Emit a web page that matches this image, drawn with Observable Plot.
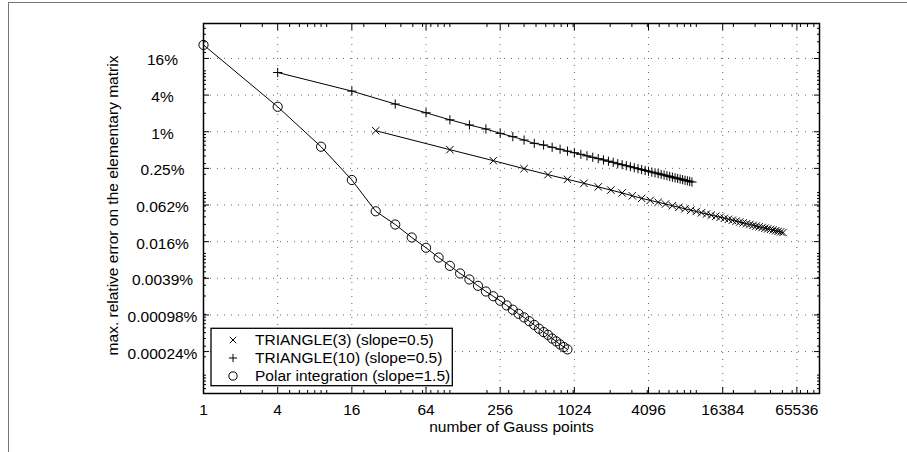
<!DOCTYPE html>
<html><head><meta charset="utf-8">
<script src="https://cdn.jsdelivr.net/npm/d3@7"></script>
<script src="https://cdn.jsdelivr.net/npm/@observablehq/plot@0.6"></script>
<style>
html,body{margin:0;padding:0;background:#fff;}
#wrap{position:relative;width:907px;height:452px;overflow:hidden;}
#border{position:absolute;left:8px;top:2px;width:1000px;height:600px;border:1.5px solid #777;pointer-events:none;z-index:2;}
#chart{position:absolute;left:0;top:0;}
</style></head><body><div id="wrap"><div id="chart"></div><div id="border"></div></div>
<script>
// ---- data ----
const seriesNames = ["TRIANGLE(3) (slope=0.5)", "TRIANGLE(10) (slope=0.5)", "Polar integration (slope=1.5)"];

const tri3Points = [25,100,225,400,625,900,1225,1600,2025,2500,3025,3600,4225,4900,5625,6400,7225,8100,9025,10000,11025,12100,13225,14400,15625,16900,18225,19600,21025,22500,24025,25600,27225,28900,30625,32400,34225,36100,38025,40000,42025,44100,46225,48400,50625];
const tri3Error = [1.04,0.507,0.335,0.247,0.197,0.165,0.142,0.124,0.110,0.0987,0.0885,0.0805,0.0745,0.0693,0.0648,0.0608,0.0573,0.0542,0.0514,0.0489,0.0466,0.0445,0.0426,0.0409,0.0393,0.0378,0.0364,0.0351,0.0339,0.0328,0.0318,0.0308,0.0299,0.0290,0.0282,0.0274,0.0267,0.0260,0.0254,0.0248,0.0242,0.0236,0.0231,0.0226,0.0221];

const tri10Points = [4,16,36,64,100,144,196,256,324,400,484,576,676,784,900,1024,1156,1296,1444,1600,1764,1936,2116,2304,2500,2704,2916,3136,3364,3600,3844,4096,4356,4624,4900,5184,5476,5776,6084,6400,6724,7056,7396,7744,8100,8464,8836,9216];
const tri10Error = [9.4,4.65,2.85,2.05,1.57,1.29,1.11,0.94,0.83,0.73,0.645,0.605,0.555,0.515,0.48,0.452,0.425,0.401,0.38,0.361,0.344,0.328,0.314,0.298,0.287,0.276,0.266,0.256,0.247,0.239,0.231,0.224,0.217,0.211,0.205,0.199,0.194,0.189,0.184,0.179,0.175,0.171,0.167,0.163,0.159,0.156,0.153,0.149];

const polarPoints = [1,4,9,16,25,36,49,64,81,100,121,144,169,196,225,256,289,324,361,400,441,484,529,576,625,676,729,784,841,900];
const polarError = [26.7,2.57,0.567,0.161,0.0493,0.0299,0.0183,0.0124,0.00857,0.00626,0.00469,0.00374,0.00294,0.00237,0.00198,0.00167,0.0014,0.00119,0.00102,0.00089,0.00077,0.00067,0.00058,0.00051,0.00046,0.0004,0.00036,0.00032,0.00029,0.000265];

const xTickValues = [1,4,16,64,256,1024,4096,16384,65536];
const xTickLabels = ["1","4","16","64","256","1024","4096","16384","65536"];
const yTickValues = [16,4,1,0.25,0.0625,0.015625,0.00390625,0.0009765625,0.000244140625];
const yTickLabels = ["16%","4%","1%","0.25%","0.062%","0.016%","0.0039%","0.00098%","0.00024%"];

const xTitle = "number of Gauss points";
const yTitle = "max. relative error on the elementary matrix";

// ---- layout ----
const W = 907, H = 452;
const mL = 203, mR = 88, mT = 23, mB = 59;
const xDomain = [1, 1e5];
const yDomain = [5e-5, 60];
const fontFamily = '"Liberation Sans", Arial, Helvetica, sans-serif';
const fontSize = 15.5;

const rows = (xs, ys) => xs.map((x, i) => ({x, y: ys[i]}));
const tri3 = rows(tri3Points, tri3Error);
const tri10 = rows(tri10Points, tri10Error);
const polar = rows(polarPoints, polarError);

const symTimes = {draw(ctx, size) { const r = Math.sqrt(size / Math.PI); ctx.moveTo(-r, -r); ctx.lineTo(r, r); ctx.moveTo(-r, r); ctx.lineTo(r, -r); }};
const symPlus = {draw(ctx, size) { const r = Math.sqrt(size / Math.PI); ctx.moveTo(-r, 0); ctx.lineTo(r, 0); ctx.moveTo(0, -r); ctx.lineTo(0, r); }};
const symCircle = {draw(ctx, size) { const r = Math.sqrt(size / Math.PI); ctx.moveTo(r, 0); ctx.arc(0, 0, r, 0, 2 * Math.PI); }};
const symbols = [symTimes, symPlus, symCircle];
const symR = [3.7, 4.6, 4.6];

const xLabel = new Map(xTickValues.map((v, i) => [v, xTickLabels[i]]));
const yLabel = new Map(yTickValues.map((v, i) => [v, yTickLabels[i]]));
const xMinor = d3.scaleLog().domain(xDomain).ticks().filter(v => !xTickValues.includes(v));
const yMinor = d3.scaleLog().domain(yDomain).ticks().filter(v => !yTickValues.includes(v));

const gridStyle = {stroke: "#666", strokeWidth: 1, strokeDasharray: "1,6"};

const chart = Plot.plot({
  width: W, height: H,
  marginLeft: mL, marginRight: mR, marginTop: mT, marginBottom: mB,
  style: {fontFamily, fontSize: fontSize + "px", background: "transparent", color: "black"},
  x: {type: "log", domain: xDomain},
  y: {type: "log", domain: yDomain},
  marks: [
    Plot.ruleX(xTickValues.slice(1), gridStyle),
    Plot.ruleY(yTickValues, gridStyle),
    Plot.line(tri3, {x: "x", y: "y", stroke: "black", strokeWidth: 1}),
    Plot.line(tri10, {x: "x", y: "y", stroke: "black", strokeWidth: 1}),
    Plot.line(polar, {x: "x", y: "y", stroke: "black", strokeWidth: 1}),
    Plot.dot(tri3, {x: "x", y: "y", symbol: symTimes, r: symR[0], stroke: "black", fill: "none", strokeWidth: 1}),
    Plot.dot(tri10, {x: "x", y: "y", symbol: symPlus, r: symR[1], stroke: "black", fill: "none", strokeWidth: 1}),
    Plot.dot(polar, {x: "x", y: "y", symbol: symCircle, r: symR[2], stroke: "black", fill: "none", strokeWidth: 1}),
    Plot.frame({stroke: "black", strokeWidth: 1.5}),
    Plot.axisX(xMinor, {anchor: "bottom", tickSize: -3, fill: "none", label: null}),
    Plot.axisX(xMinor, {anchor: "top", tickSize: -3, fill: "none", label: null}),
    Plot.axisX(xTickValues, {anchor: "bottom", tickSize: -6, fill: "none", label: null}),
    Plot.axisX(xTickValues, {anchor: "top", tickSize: -6, fill: "none", label: null}),
    Plot.axisY(yMinor, {anchor: "left", tickSize: -3, fill: "none", label: null}),
    Plot.axisY(yMinor, {anchor: "right", tickSize: -3, fill: "none", label: null}),
    Plot.axisY(yTickValues, {anchor: "left", tickSize: -6, fill: "none", label: null}),
    Plot.axisY(yTickValues, {anchor: "right", tickSize: -6, fill: "none", label: null}),
    // tick labels through the scales
    Plot.text(xTickValues, {x: d => d, text: d => xLabel.get(d), frameAnchor: "bottom", textAnchor: "middle", lineAnchor: "top", dy: 10, fill: "black"}),
    Plot.text(yTickValues, {y: d => d, text: d => yLabel.get(d), frameAnchor: "left", textAnchor: "middle", lineAnchor: "middle", dx: -41, dy: 2, fill: "black"}),
    Plot.text([xTitle], {text: d => d, frameAnchor: "bottom", textAnchor: "middle", lineAnchor: "top", dy: 27, fill: "black"}),
    Plot.text([yTitle], {text: d => d, frameAnchor: "left", textAnchor: "middle", lineAnchor: "middle", rotate: -90, dx: -90.5, dy: -3, fill: "black"})
  ]
});
document.getElementById("chart").appendChild(chart);

// ---- legend (inside plot area, bottom-left) ----
const svg = d3.select(chart);
const lg = svg.append("g").attr("font-family", fontFamily).attr("font-size", fontSize).attr("text-anchor", "start");
const boxX = mL + 8, boxY = H - mB - 64.7, boxW = 241.3, boxH = 57.4;
lg.append("rect").attr("x", boxX).attr("y", boxY).attr("width", boxW).attr("height", boxH)
  .attr("fill", "white").attr("stroke", "black").attr("stroke-width", 1.3);
seriesNames.forEach((name, i) => {
  const cy = boxY + 11.7 + i * 18;
  lg.append("path").attr("transform", `translate(${boxX + 22},${cy})`)
    .attr("d", d3.symbol(symbols[i], Math.PI * Math.pow(symR[i] - 0.5, 2))())
    .attr("fill", "none").attr("stroke", "black").attr("stroke-width", 1);
  lg.append("text").attr("x", boxX + 44).attr("y", cy).attr("dy", "0.35em").attr("text-anchor", "start").attr("fill", "black").text(name);
});
</script>
</body></html>
